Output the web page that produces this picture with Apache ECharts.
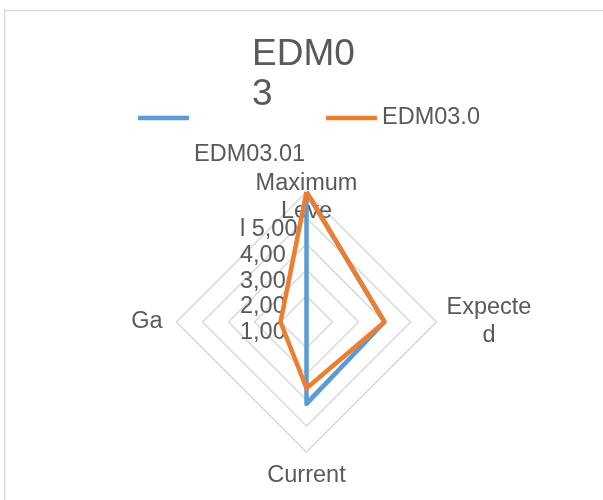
<!DOCTYPE html>
<html>
<head>
<meta charset="utf-8">
<script src="https://cdn.jsdelivr.net/npm/echarts@6/dist/echarts.min.js"></script>
<style>
html,body{margin:0;padding:0;background:#fff;}
#c{width:603px;height:500px;}
</style>
</head>
<body>
<div id="c"></div>
<script>
// ---- data ----
const titleText = 'EDM0\n3';
const indicatorNames = ['Maximum\nLeve', 'Ga', 'Current', 'Expecte\nd']; // counter-clockwise from top
const indicatorMax = [5, 5, 5, 5];
const seriesNames = ['EDM03.01', 'EDM03.0'];
const seriesA = [5.0, 0.0, 3.15, 3.0];
const seriesB = [5.0, 1.0, 2.55, 3.0];
const tickLabels = ['1,00', '2,00', '3,00', '4,00', 'l 5,00'];

const TEXT = '#595959';
const FONT = "'Liberation Sans', Arial, sans-serif";
const BLUE = '#5b9bd5';
const ORANGE = '#ed7d31';
const GRID = '#d9d9d9';

const topName = indicatorNames[0];
const leftName = indicatorNames[1];
function richWrap(s) {
  const key = s === leftName ? 'g' : 'c';
  return s.split('\n').map(l => '{' + key + '|' + l + '}').join('\n');
}
const indicators = indicatorNames.map((n, i) => ({ name: n, max: indicatorMax[i], min: 0 }));
const nameRich = {
  c: { align: 'center', fontSize: 23.5, lineHeight: 28, color: TEXT, fontFamily: FONT },
  g: { fontSize: 23.5, lineHeight: 28, color: TEXT, fontFamily: FONT, padding: [0, 4, 0, 0] }
};

const chart = echarts.init(document.getElementById('c'), null, { renderer: 'canvas' });
chart.setOption({
  animation: false,
  backgroundColor: '#fff',
  title: {
    text: titleText, left: 252, top: 35, padding: 0,
    textStyle: { fontSize: 37, fontWeight: 'normal', color: TEXT, lineHeight: 40, fontFamily: FONT }
  },
  legend: [
    {
      data: [seriesNames[0]], left: 138, top: 62.5, padding: 0,
      icon: 'rect', itemWidth: 51, itemHeight: 4.5, selectedMode: false,
      formatter: '\n\n{name}',
      textStyle: { fontSize: 23.5, color: TEXT, lineHeight: 37, fontFamily: FONT }
    },
    {
      data: [seriesNames[1]], left: 326, top: 104, padding: 0,
      icon: 'rect', itemWidth: 51, itemHeight: 4.5, selectedMode: false,
      textStyle: { fontSize: 23.5, color: TEXT, lineHeight: 28, fontFamily: FONT }
    }
  ],
  radar: [
    {
      center: [306.5, 322], radius: 130, startAngle: 90, splitNumber: 5, shape: 'polygon',
      indicator: indicators,
      nameGap: 10,
      axisName: {
        color: TEXT, fontSize: 23.5, lineHeight: 28, fontFamily: FONT,
        formatter: (n) => n === topName ? '' : richWrap(n),
        rich: nameRich
      },
      axisLine: { show: false },
      axisTick: { show: false },
      splitArea: { show: false },
      splitLine: { lineStyle: { color: GRID, width: 1.5 } }
    },
    {
      center: [306.5, 322], radius: 130, startAngle: 90, splitNumber: 5, shape: 'polygon',
      indicator: indicators,
      nameGap: -34,
      axisName: {
        color: TEXT, fontSize: 23.5, lineHeight: 28, fontFamily: FONT,
        formatter: (n) => n === topName ? richWrap(n) : '',
        rich: nameRich
      },
      axisLine: { show: false },
      axisTick: { show: false },
      splitArea: { show: false },
      splitLine: { show: false }
    }
  ],
  grid: { left: 290, top: 230, width: 1, height: 128 },
  xAxis: { type: 'value', show: false, min: 0, max: 1 },
  yAxis: {
    type: 'value', min: 0, max: 5, interval: 1,
    axisLine: { show: false }, axisTick: { show: false }, splitLine: { show: false },
    axisLabel: {
      margin: 50, align: 'left', color: TEXT, fontSize: 23.5, fontFamily: FONT,
      formatter: (v) => v >= 1 ? tickLabels[v - 1] : ''
    }
  },
  graphic: [
    {
      type: 'rect', silent: true, z: -10,
      shape: { x: 4.5, y: 10.5, width: 700, height: 600 },
      style: { fill: 'none', stroke: GRID, lineWidth: 1.5 }
    }
  ],
  series: [
    {
      type: 'radar', radarIndex: 0, symbol: 'none', z: 3,
      data: [
        { name: seriesNames[0], value: seriesA, lineStyle: { color: BLUE, width: 4.5, join: 'round' }, itemStyle: { color: BLUE } },
        { name: seriesNames[1], value: seriesB, lineStyle: { color: ORANGE, width: 4.5, join: 'round' }, itemStyle: { color: ORANGE } }
      ]
    }
  ]
});
</script>
</body>
</html>
